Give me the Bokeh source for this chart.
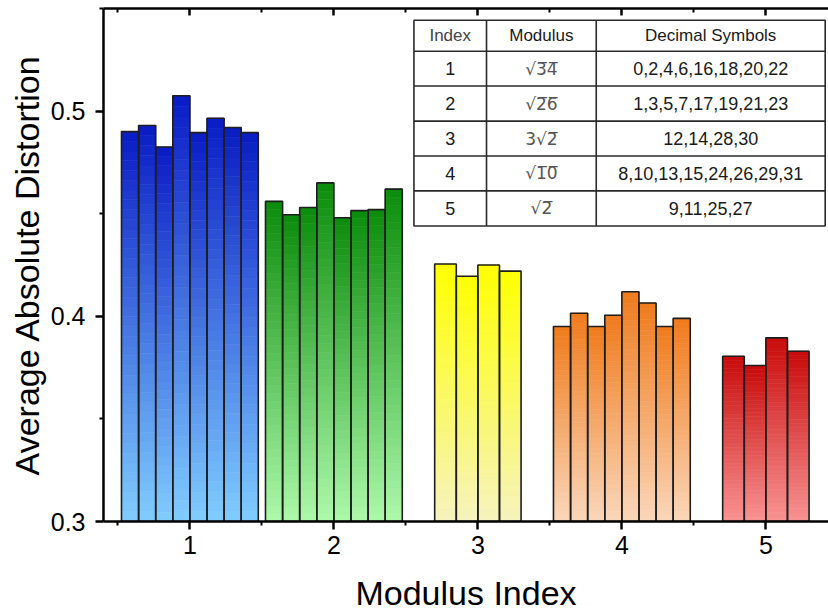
from bokeh.plotting import figure
from bokeh.models import FixedTicker, LinearAxis, Range1d
from bokeh.embed import file_html
from bokeh.resources import INLINE
from bokeh.core.properties import value

# ---------------- data ----------------
modulus_index = [1, 2, 3, 4, 5]
distortion_1 = [0.490, 0.493, 0.4825, 0.5075, 0.4895, 0.4965, 0.492, 0.4895]
distortion_2 = [0.456, 0.4495, 0.453, 0.465, 0.448, 0.4515, 0.452, 0.462]
distortion_3 = [0.4255, 0.4195, 0.425, 0.422]
distortion_4 = [0.395, 0.4015, 0.395, 0.4005, 0.412, 0.4065, 0.395, 0.399]
distortion_5 = [0.3805, 0.376, 0.3895, 0.383]
groups = [distortion_1, distortion_2, distortion_3, distortion_4, distortion_5]

x_tick_labels = ["1", "2", "3", "4", "5"]
y_ticks = [0.3, 0.4, 0.5]

table_header = ["Index", "Modulus", "Decimal Symbols"]
table_index = ["1", "2", "3", "4", "5"]
table_modulus = ["\u221a3\u03054\u0305", "\u221a2\u03056\u0305", "3\u221a2\u0305",
                 "\u221a1\u03050\u0305", "\u221a2\u0305"]
table_symbols = ["0,2,4,6,16,18,20,22", "1,3,5,7,17,19,21,23", "12,14,28,30",
                 "8,10,13,15,24,26,29,31", "9,11,25,27"]

# ---------------- styles ----------------
top_colors = ["#0a1cc4", "#0b8c0b", "#ffff00", "#ef7b1c", "#c80a0a"]
bottom_colors = ["#80cdff", "#adf9ab", "#f6f3c0", "#fad7bb", "#f99393"]
GROUP_W = {8: 0.95, 4: 0.6}
BASE = 0.3
K = 40
FONT = "Liberation Sans"


def hex2rgb(h):
    h = h.lstrip("#")
    return [int(h[i:i + 2], 16) for i in (0, 2, 4)]


def mix(c0, c1, t):
    a, b = hex2rgb(c0), hex2rgb(c1)
    return "#%02x%02x%02x" % tuple(int(round(a[i] + (b[i] - a[i]) * t)) for i in range(3))


p = figure(width=828, height=614, x_range=Range1d(0.4, 5.435), y_range=Range1d(0.3, 0.55),
           output_backend="svg", toolbar_location=None,
           min_border_left=103, min_border_right=0, min_border_top=8, min_border_bottom=92)
p.grid.visible = False
p.outline_line_color = None
p.background_fill_color = "white"

# gradient slices + outlines
sl, sr, st, sb, sc = [], [], [], [], []
ol, orr, ot = [], [], []
for g, vals in enumerate(groups):
    n = len(vals)
    W = GROUP_W[n]
    bw = W / n
    c = modulus_index[g]
    for i, v in enumerate(vals):
        left = c - W / 2 + i * bw
        right = left + bw
        ol.append(left); orr.append(right); ot.append(v)
        for k in range(K):
            y0 = BASE + (v - BASE) * k / K
            y1 = BASE + (v - BASE) * (k + 1) / K
            t = (k + 0.5) / K
            sl.append(left); sr.append(right); sb.append(y0); st.append(y1)
            sc.append(mix(bottom_colors[g], top_colors[g], t))

p.quad(left=sl, right=sr, top=st, bottom=sb, fill_color=sc, line_color=sc, line_width=0.6)
p.quad(left=ol, right=orr, top=ot, bottom=[BASE] * len(ot), fill_color=None,
       line_color="#1e1e1e", line_width=1.6)

# ---------------- table ----------------
tx = [2.556, 3.060, 3.822, 5.412]
ty = [0.5443, 0.5292, 0.5122, 0.4951, 0.4781, 0.4611, 0.4440]
p.quad(left=[tx[0]], right=[tx[-1]], top=[ty[0]], bottom=[ty[-1]],
       fill_color="white", line_color="#2a2a2a", line_width=1.6)
p.segment(x0=[tx[0]] * (len(ty) - 2), x1=[tx[-1]] * (len(ty) - 2), y0=ty[1:-1], y1=ty[1:-1],
          line_color="#2a2a2a", line_width=1.6)
p.segment(x0=tx[1:-1], x1=tx[1:-1], y0=[ty[0]] * 2, y1=[ty[-1]] * 2,
          line_color="#2a2a2a", line_width=1.6)
cx = [(tx[i] + tx[i + 1]) / 2 for i in range(3)]
cy = [(ty[i] + ty[i + 1]) / 2 for i in range(6)]
p.text(x=cx, y=[cy[0]] * 3, text=table_header, text_align="center", text_baseline="middle",
       text_font=value(FONT), text_font_size="17px", text_color=["#444444", "#1a1a1a", "#1a1a1a"])
p.text(x=[cx[0]] * 5, y=cy[1:], text=table_index, text_align="center", text_baseline="middle",
       text_font=value(FONT), text_font_size="18px", text_color="#1a1a1a")
p.text(x=[cx[1]] * 5, y=cy[1:], text=table_modulus, text_align="center", text_baseline="middle",
       text_font=value("DejaVu Sans"), text_font_size="17px", text_color="#555555")
p.text(x=[cx[2]] * 5, y=cy[1:], text=table_symbols, text_align="center", text_baseline="middle",
       text_font=value(FONT), text_font_size="18px", text_color="#1a1a1a")

# ---------------- axes ----------------
xt = FixedTicker(ticks=modulus_index, minor_ticks=[0.5, 1.5, 2.5, 3.5, 4.5, 5.5])
yt = FixedTicker(ticks=y_ticks, minor_ticks=[0.35, 0.45, 0.55])

xa = p.xaxis[0]
xa.ticker = xt
xa.major_label_overrides = {m: s for m, s in zip(modulus_index, x_tick_labels)}
xa.axis_label = "Modulus Index"
ya = p.yaxis[0]
ya.ticker = yt
ya.axis_label = "Average Absolute Distortion"

for ax in (xa, ya):
    ax.axis_line_width = 2.5
    ax.axis_line_color = "black"
    ax.major_tick_line_width = 2.5
    ax.minor_tick_line_width = 2
    ax.major_tick_out = 8
    ax.major_tick_in = 0
    ax.minor_tick_out = 4
    ax.minor_tick_in = 0
    ax.major_label_text_font = FONT
    ax.major_label_text_font_size = "25px"
    ax.major_label_text_color = "black"
    ax.axis_label_text_font = FONT
    ax.axis_label_text_font_style = "normal"
    ax.axis_label_text_color = "black"
    ax.axis_label_text_font_size = "34px"
ya.major_label_standoff = 10
ya.axis_label_standoff = 2
xa.major_label_standoff = 6
xa.axis_label_standoff = 17
xa.axis_label_text_line_height = 0.7

top = LinearAxis(ticker=xt)
top.axis_line_width = 2.5
top.major_tick_line_width = 2.5
top.minor_tick_line_width = 2
top.major_tick_in = 7
top.major_tick_out = 0
top.minor_tick_in = 4
top.minor_tick_out = 0
top.major_label_text_font_size = "0px"
top.major_label_text_alpha = 0
top.major_label_text_color = None
top.major_label_standoff = 0
p.add_layout(top, "above")

open("out.html", "w").write(file_html(p, INLINE))
